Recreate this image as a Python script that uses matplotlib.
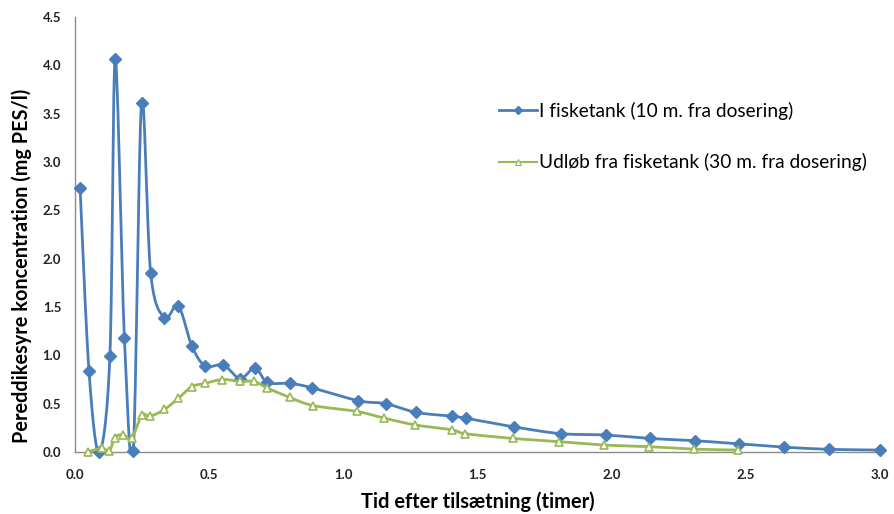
import numpy as np
import matplotlib
matplotlib.use("Agg")
import matplotlib.pyplot as plt

plt.rcParams['font.family'] = ['Lato', 'DejaVu Sans']

# Data
tank_x = [0.019, 0.052, 0.09, 0.13, 0.150, 0.184, 0.217, 0.248, 0.282, 0.333, 0.385,
          0.435, 0.485, 0.553, 0.615, 0.671, 0.717, 0.801, 0.882, 1.056, 1.158,
          1.271, 1.406, 1.456, 1.636, 1.81, 1.977, 2.143, 2.311, 2.475, 2.643,
          2.81, 3.0]
tank_y = [2.73, 0.84, 0.0, 0.99, 4.07, 1.18, 0.01, 3.61, 1.85, 1.39, 1.51,
          1.10, 0.89, 0.90, 0.76, 0.87, 0.72, 0.71, 0.665, 0.53, 0.50,
          0.41, 0.37, 0.35, 0.26, 0.19, 0.176, 0.14, 0.117, 0.083, 0.05,
          0.028, 0.02]

udl_x = [0.047, 0.10, 0.128, 0.149, 0.18, 0.211, 0.249, 0.28, 0.333, 0.385, 0.435,
         0.485, 0.549, 0.615, 0.668, 0.714, 0.80, 0.888, 1.05, 1.153, 1.267,
         1.404, 1.454, 1.634, 1.805, 1.973, 2.14, 2.307, 2.472]
udl_y = [0.0, 0.04, 0.01, 0.15, 0.18, 0.14, 0.38, 0.37, 0.44, 0.555, 0.675,
         0.71, 0.75, 0.73, 0.73, 0.665, 0.565, 0.48, 0.42, 0.35, 0.28,
         0.23, 0.19, 0.14, 0.107, 0.072, 0.055, 0.03, 0.02]

xticks = [0.0, 0.5, 1.0, 1.5, 2.0, 2.5, 3.0]
yticks = [0.0, 0.5, 1.0, 1.5, 2.0, 2.5, 3.0, 3.5, 4.0, 4.5]

label_tank = "I fisketank (10 m. fra dosering)"
label_udl = "Udløb fra fisketank (30 m. fra dosering)"
xlabel = "Tid efter tilsætning (timer)"
ylabel = "Pereddikesyre koncentration (mg PES/l)"

BLUE = "#4A7EBB"
GREEN = "#98B954"


def smooth(x, y, n=16):
    """Excel-like smoothed line (Catmull-Rom Bezier) through the points."""
    x = np.asarray(x, float)
    y = np.asarray(y, float)
    px = np.concatenate([[x[0]], x, [x[-1]]])
    py = np.concatenate([[y[0]], y, [y[-1]]])
    ox, oy = [], []
    t = np.linspace(0, 1, n, endpoint=False)
    for i in range(1, len(px) - 2):
        p0 = np.array([px[i], py[i]])
        p3 = np.array([px[i + 1], py[i + 1]])
        c1 = p0 + (np.array([px[i + 1], py[i + 1]]) - np.array([px[i - 1], py[i - 1]])) / 6
        c2 = p3 - (np.array([px[i + 2], py[i + 2]]) - np.array([px[i], py[i]])) / 6
        b = ((1 - t) ** 3)[:, None] * p0 + (3 * (1 - t) ** 2 * t)[:, None] * c1 \
            + (3 * (1 - t) * t ** 2)[:, None] * c2 + (t ** 3)[:, None] * p3
        ox.extend(b[:, 0]); oy.extend(b[:, 1])
    ox.append(x[-1]); oy.append(y[-1])
    return np.array(ox), np.array(oy)


fig = plt.figure(figsize=(8.95, 5.14), dpi=100)
ax = fig.add_axes([0.0838, 0.1206, 0.8995, 0.8464])

sx, sy = smooth(tank_x, tank_y)
ax.plot(sx, np.clip(sy, 0, None), color=BLUE, lw=2.0, zorder=3, clip_on=False)
ax.plot(tank_x, tank_y, linestyle='none', marker='D', ms=6.5, color=BLUE,
        markeredgecolor=BLUE, zorder=4, clip_on=False)

gx, gy = smooth(udl_x, udl_y)
ax.plot(gx, np.clip(gy, 0, None), color=GREEN, lw=2.0, zorder=5, clip_on=False)
ax.plot(udl_x, udl_y, linestyle='none', marker='^', ms=6, color=GREEN,
        markerfacecolor='white', markeredgewidth=1.2, zorder=6, clip_on=False)

# legend proxies
ax.plot([], [], color=BLUE, lw=2.0, marker='D', ms=4, label=label_tank)
ax.plot([], [], color=GREEN, lw=1.5, marker='^', ms=4, markerfacecolor='white',
        markeredgewidth=0.8, label=label_udl)
h, l = ax.get_legend_handles_labels()
ax.legend(h[-2:], l[-2:], loc='upper left', bbox_to_anchor=(0.505, 0.845),
          frameon=False, fontsize=13.8, handlelength=2.0, handletextpad=0.1,
          labelspacing=1.75)

ax.set_xlim(0, 3.0)
ax.set_ylim(0, 4.5)
ax.set_xticks(xticks)
ax.set_yticks(yticks)
ax.set_xticklabels([f"{v:.1f}" for v in xticks])
ax.set_yticklabels([f"{v:.1f}" for v in yticks])
ax.tick_params(axis='both', length=0, labelsize=9.5, colors='#222222')
for lab in ax.get_xticklabels() + ax.get_yticklabels():
    lab.set_fontweight('bold')
ax.tick_params(axis='x', pad=12)
ax.tick_params(axis='y', pad=10)

for s in ['top', 'right']:
    ax.spines[s].set_visible(False)
for s in ['left', 'bottom']:
    ax.spines[s].set_color('#8c8c8c')
    ax.spines[s].set_linewidth(1.0)

ax.set_xlabel(xlabel, fontsize=14.4, fontweight='bold', labelpad=8)
ax.set_ylabel(ylabel, fontsize=14.3, fontweight='bold')
ax.yaxis.set_label_coords(-0.054, 0.428)

fig.savefig("out.png", dpi=100)
